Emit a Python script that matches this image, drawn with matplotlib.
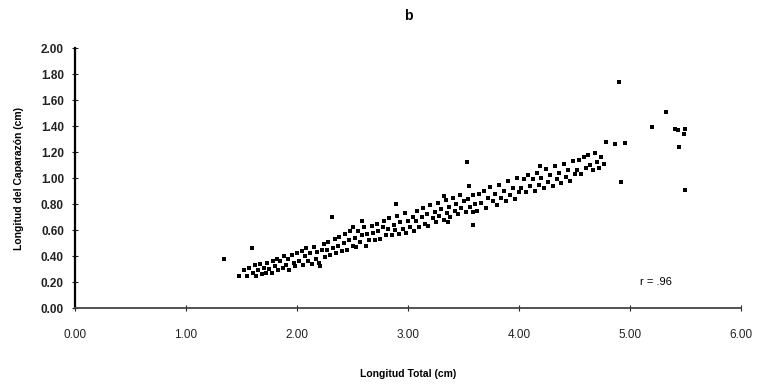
import matplotlib
matplotlib.use("Agg")
import matplotlib.pyplot as plt

# band of points in segments
x_band = [1.52,1.55,1.57,1.60,1.62,1.63,1.65,1.67,1.68,1.70,1.72,1.73,1.75,1.77,1.78,1.80,1.82,1.83,1.85,1.87,1.88,1.90,1.92,1.93,1.95,1.97,1.98,2.00,
          2.02,2.04,2.05,2.07,2.08,2.10,2.12,2.13,2.15,2.17,2.18,2.20,2.22,2.24,2.25,2.27,2.28,2.30,2.32,2.34,2.35,2.37,2.38,2.40,2.42,2.43,2.45,2.47,2.48,2.50,
          2.52,2.53,2.55,2.57,2.58,2.60,2.62,2.63,2.65,2.67,2.68,2.70,2.72,2.73,2.75,2.77,2.78,2.80,2.82,2.83,2.85,2.87,2.88,2.90,2.92,2.93,2.95,2.97,2.98,3.00,
          3.02,3.04,3.05,3.07,3.08,3.10,3.12,3.13,3.15,3.17,3.18,3.20,3.22,3.24,3.25,3.27,3.28,3.30,3.32,3.34,3.35,3.37,3.38,3.40,3.42,3.43,3.45,3.47,3.48,3.50,
          3.52,3.54,3.56,3.58,3.60,3.62,3.64,3.66,3.68,3.70,3.72,3.74,3.76,3.78,3.80,3.82,3.84,3.86,3.88,3.90,3.92,3.94,3.96,3.98,4.00,
          4.02,4.04,4.06,4.08,4.10,4.12,4.14,4.16,4.18,4.20,4.22,4.24,4.26,4.28,4.30,4.32,4.34,4.36,4.38,4.40,4.42,4.44,4.46,4.48,4.50,
          4.52,4.54,4.56,4.58,4.60,4.62,4.64,4.66,4.68,4.70,4.72,4.74,4.76]
y_band = [0.29,0.25,0.31,0.27,0.33,0.25,0.29,0.34,0.26,0.31,0.27,0.35,0.30,0.27,0.36,0.32,0.38,0.29,0.36,0.31,0.40,0.33,0.38,0.29,0.41,0.35,0.32,0.42,
          0.36,0.44,0.33,0.40,0.46,0.36,0.42,0.34,0.47,0.38,0.43,0.35,0.45,0.49,0.39,0.45,0.51,0.41,0.46,0.53,0.42,0.48,0.55,0.44,0.50,0.57,0.45,0.52,0.59,0.48,
          0.54,0.47,0.59,0.51,0.56,0.62,0.48,0.57,0.52,0.63,0.58,0.52,0.65,0.59,0.53,0.62,0.67,0.56,0.61,0.69,0.56,0.64,0.60,0.71,0.57,0.66,0.61,0.73,0.58,0.67,
          0.62,0.70,0.59,0.67,0.75,0.62,0.70,0.77,0.65,0.72,0.63,0.79,0.69,0.74,0.66,0.81,0.71,0.76,0.68,0.83,0.73,0.78,0.70,0.85,0.75,0.80,0.72,0.87,0.77,0.82,
          0.74,0.84,0.78,0.87,0.80,0.75,0.88,0.81,0.90,0.77,0.85,0.93,0.82,0.88,0.79,0.95,0.85,0.90,0.82,0.98,0.87,0.92,0.84,1.00,0.89,
          0.92,0.99,0.89,1.02,0.94,0.99,0.90,1.04,0.95,1.00,0.92,1.07,0.97,1.02,0.94,1.09,0.99,1.04,0.96,1.11,1.01,1.06,0.98,1.13,1.03,
          1.06,1.14,1.03,1.16,1.08,1.18,1.10,1.06,1.19,1.12,1.08,1.16,1.11]

# scattered points away from the band
x_out = [1.34,1.59,1.48,2.31,2.21,2.58,2.89,2.50,3.32,3.36,3.53,3.55,3.58,3.58,4.19,
         4.90,5.32,5.20,5.40,5.43,5.49,5.48,5.44,5.49,4.78,4.86,4.95,4.92]
y_out = [0.38,0.46,0.25,0.70,0.32,0.67,0.80,0.62,0.86,0.66,1.12,0.94,0.64,0.74,1.09,
         1.74,1.51,1.39,1.38,1.37,1.38,1.34,1.24,0.91,1.28,1.26,1.27,0.97]

x_ticks = [0, 1, 2, 3, 4, 5, 6]
y_ticks = [0.0, 0.2, 0.4, 0.6, 0.8, 1.0, 1.2, 1.4, 1.6, 1.8, 2.0]

plt.rcParams['font.family'] = ['Liberation Sans', 'DejaVu Sans']

fig = plt.figure(figsize=(7.58, 3.88), dpi=100)
ax = fig.add_axes([0.099, 0.206, 0.879, 0.670])

ax.scatter(x_band + x_out, y_band + y_out, s=11, marker='s', color='black', linewidths=0)

ax.set_xlim(0, 6)
ax.set_ylim(0, 2)
ax.set_xticks(x_ticks)
ax.set_yticks(y_ticks)
ax.set_xticklabels([f'{v:.2f}' for v in x_ticks], fontsize=8.5)
ax.set_yticklabels([f'{v:.2f}' for v in y_ticks], fontsize=8.5, fontweight='bold')
ax.tick_params(axis='x', direction='inout', length=4, pad=13, colors='#222222')
ax.tick_params(axis='y', direction='inout', length=4, pad=6, colors='#222222')
for s in ['top', 'right']:
    ax.spines[s].set_visible(False)
ax.spines['left'].set_linewidth(1.6)
ax.spines['bottom'].set_linewidth(1.3)
ax.spines['bottom'].set_color('#444444')

ax.set_xlabel('Longitud Total (cm)', fontsize=7.5, fontweight='bold', labelpad=20)
ax.set_ylabel('Longitud del Caparazón (cm)', fontsize=7.5, fontweight='bold', labelpad=12)
ax.set_title('b', fontsize=10, fontweight='bold', pad=20)
ax.text(5.09, 0.20, 'r = .96', fontsize=8, va='center')

fig.savefig('out.png', dpi=100)
